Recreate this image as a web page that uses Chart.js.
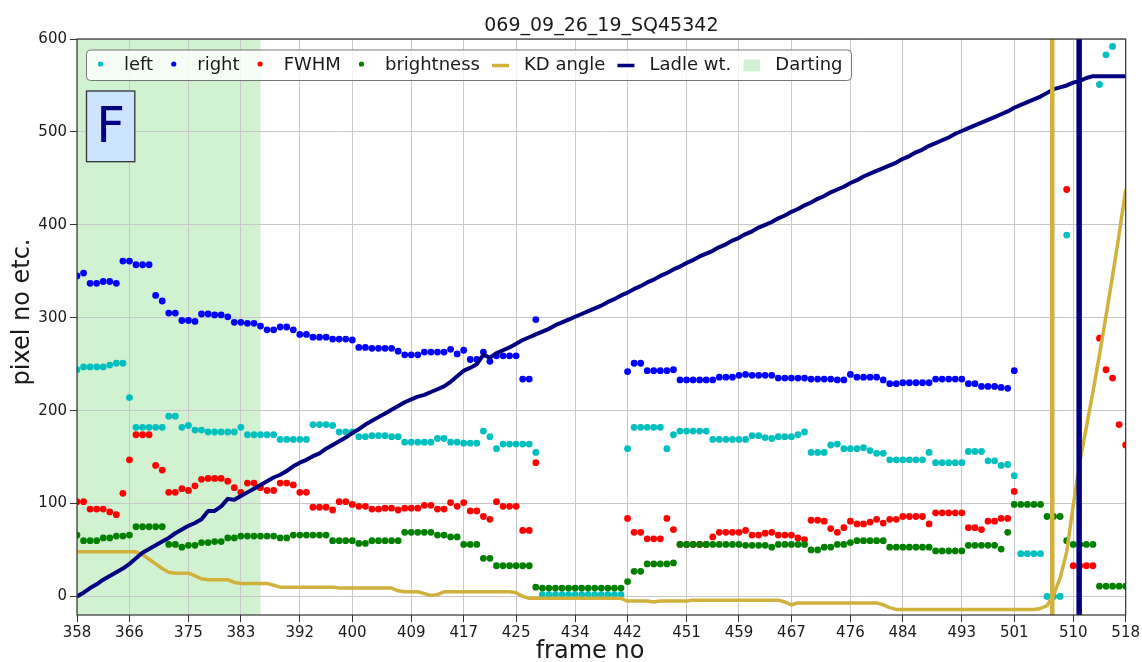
<!DOCTYPE html>
<html>
<head>
<meta charset="utf-8">
<script src="https://cdn.jsdelivr.net/npm/chart.js"></script>
<style>
  html, body { margin: 0; padding: 0; background: #fff; }
</style>
</head>
<body>
<canvas id="chart" width="1142" height="662"></canvas>
<script>
const chartTitle = "069_09_26_19_SQ45342";
const xTitle = "frame no";
const yTitle = "pixel no etc.";
const panelLetter = "F";

const firstFrame = 358;
const lastFrame = 518;
const xTicks = [358, 366, 375, 383, 392, 400, 409, 417, 425, 434, 442, 451, 459, 467, 476, 484, 493, 501, 510, 518];
const yTicks = [0, 100, 200, 300, 400, 500, 600];
const yMin = -20;
const yMax = 600;

const dartingSpan = [358, 386];
const kdEventFrame = 506.8;
const ladleEventFrame = 510.9;

// one value per frame, 358 .. 518 (null = no detection)
const leftPx = [
  244, 247, 247, 247, 247, 249, 251, 251, 214, 182,   // 358
  182, 182, 182, 182, 194, 194, 182, 184, 179, 179,   // 368
  177, 177, 177, 177, 177, 182, 174, 174, 174, 174,   // 378
  174, 169, 169, 169, 169, 169, 185, 185, 185, 184,   // 388
  177, 177, 177, 172, 172, 173, 173, 173, 172, 172,   // 398
  166, 166, 166, 166, 166, 170, 170, 166, 166, 165,   // 408
  165, 165, 178, 172, 159, 164, 164, 164, 164, 164,   // 418
  155, 2, 2, 2, 2, 2, 2, 2, 2, 2,                     // 428
  2, 2, 2, 2, 159, 182, 182, 182, 182, 182,           // 438
  159, 174, 178, 178, 178, 178, 178, 169, 169, 169,   // 448
  169, 169, 169, 173, 173, 171, 170, 172, 172, 172,   // 458
  174, 177, 155, 155, 155, 163, 164, 159, 159, 159,   // 468
  160, 157, 154, 154, 147, 147, 147, 147, 147, 147,   // 478
  155, 144, 144, 144, 144, 144, 156, 156, 156, 146,   // 488
  146, 141, 142, 130, 46, 46, 46, 46, 0, 0,           // 498
  0, 389, null, null, null, null, 551, 583, 592, null, // 508
  null                                                // 518
];

const rightPx = [
  345, 348, 337, 337, 339, 339, 337, 361, 361, 357,
  357, 357, 324, 318, 305, 305, 297, 297, 296, 304,
  304, 303, 303, 301, 295, 295, 294, 294, 291, 287,
  287, 290, 290, 287, 282, 282, 279, 279, 279, 277,
  277, 277, 276, 268, 268, 267, 267, 267, 267, 264,
  260, 260, 260, 263, 263, 263, 263, 266, 261, 265,
  255, 255, 263, 253, 259, 259, 259, 259, 234, 234,
  298, null, null, null, null, null, null, null, null, null,
  null, null, null, null, 242, 251, 251, 243, 243, 243,
  243, 244, 233, 233, 233, 233, 233, 233, 236, 236,
  236, 238, 239, 238, 238, 238, 238, 235, 235, 235,
  235, 235, 234, 234, 234, 234, 233, 233, 239, 236,
  236, 236, 236, 233, 229, 229, 230, 230, 230, 230,
  230, 234, 234, 234, 234, 234, 229, 229, 226, 226,
  226, 225, 224, 243, null, null, null, null, null, null,
  null, null, null, null, null, null, null, null, null, null,
  null
];

const fwhm = [
  102, 102, 94, 94, 94, 91, 88, 111, 147, 174,
  174, 174, 141, 136, 112, 112, 116, 114, 119, 126,
  127, 127, 127, 124, 117, 112, 122, 122, 117, 114,
  114, 122, 122, 120, 112, 112, 96, 96, 96, 93,
  102, 102, 99, 97, 97, 94, 94, 95, 95, 93,
  95, 95, 95, 98, 98, 94, 94, 101, 97, 101,
  92, 92, 86, 83, 102, 97, 97, 97, 71, 71,
  144, null, null, null, null, null, null, null, null, null,
  null, null, null, null, 84, 69, 69, 62, 62, 62,
  84, 72, 56, 56, 56, 56, 56, 64, 69, 69,
  69, 69, 71, 66, 66, 68, 69, 66, 66, 66,
  63, 61, 82, 82, 81, 73, 69, 74, 81, 78,
  78, 80, 83, 79, 83, 83, 86, 86, 86, 86,
  78, 90, 90, 90, 90, 90, 74, 74, 72, 81,
  81, 84, 84, 113, null, null, null, null, null, null,
  null, 438, 33, 33, 33, 33, 278, 244, 235, 185,
  163
];

const brightness = [
  66, 60, 60, 60, 63, 63, 65, 65, 66, 75,
  75, 75, 75, 75, 56, 56, 53, 55, 55, 58,
  58, 59, 59, 63, 63, 65, 65, 65, 65, 65,
  65, 63, 63, 66, 66, 66, 66, 66, 66, 60,
  60, 60, 60, 57, 57, 60, 60, 60, 60, 60,
  69, 69, 69, 69, 69, 66, 66, 64, 64, 56,
  56, 56, 41, 41, 33, 33, 33, 33, 33, 33,
  10, 9, 9, 9, 9, 9, 9, 9, 9, 9,
  9, 9, 9, 9, 16, 27, 27, 35, 35, 35,
  35, 36, 56, 56, 56, 56, 56, 56, 56, 56,
  56, 56, 55, 55, 55, 55, 53, 56, 56, 56,
  56, 56, 50, 50, 53, 53, 56, 56, 58, 60,
  60, 60, 60, 60, 53, 53, 53, 53, 53, 53,
  53, 49, 49, 49, 49, 49, 55, 55, 55, 55,
  55, 51, 69, 99, 99, 99, 99, 99, 86, 86,
  86, 60, 56, 56, 56, 56, 11, 11, 11, 11,
  11
];

const kdAngle = [
  48, 48, 48, 48, 48, 48, 48, 48, 48, 48,
  45, 40, 35, 30, 26, 25, 25, 25, 22, 19,
  18, 18, 18, 18, 15, 14, 14, 14, 14, 14,
  12, 10, 10, 10, 10, 10, 10, 10, 10, 10,
  9, 9, 9, 9, 9, 9, 9, 9, 9, 6,
  5, 5, 5, 3, 1, 2, 5, 5, 5, 5,
  5, 5, 5, 5, 5, 5, 5, 4, 0, -2,
  -2, -2, -2, -2, -2, -2, -2, -2, -2, -2,
  -2, -2, -2, -2, -5, -5, -5, -5, -6, -5,
  -5, -5, -5, -5, -4, -4, -4, -4, -4, -4,
  -4, -4, -4, -4, -4, -4, -4, -4, -6, -9,
  -7, -7, -7, -7, -7, -7, -7, -7, -7, -7,
  -7, -7, -7, -9, -12, -14, -14, -14, -14, -14,
  -14, -14, -14, -14, -14, -14, -14, -14, -14, -14,
  -14, -14, -14, -14, -14, -14, -14, -13, -10, 2,
  20, 48, 98, 145, 182, 220, 260, 302, 345, 390,
  438
];

const ladleWt = [
  0, 4, 9, 13, 18, 22, 26, 30, 35, 41,
  47, 51, 55, 59, 63, 68, 72, 76, 79, 83,
  92, 92, 97, 105, 104, 108, 112, 116, 120, 124,
  128, 131, 135, 140, 144, 147, 151, 154, 159, 163,
  167, 171, 176, 180, 185, 189, 193, 197, 201, 205,
  209, 212, 215, 217, 220, 223, 226, 231, 237, 243,
  246, 250, 260, 257, 262, 265, 268, 272, 276, 279,
  282, 285, 288, 292, 295, 298, 301, 304, 307, 310,
  313, 317, 320, 324, 327, 331, 334, 338, 341, 345,
  348, 352, 355, 359, 362, 366, 369, 372, 376, 379,
  383, 386, 390, 393, 397, 400, 403, 407, 410, 414,
  417, 421, 424, 428, 431, 435, 438, 441, 445, 448,
  452, 455, 458, 461, 464, 467, 471, 474, 478, 481,
  485, 488, 491, 494, 498, 501, 504, 507, 510, 513,
  516, 519, 522, 526, 529, 532, 535, 538, 542, 546,
  548, 550, 553, 555, 558, 560, 560, 560, 560, 560,
  560
];

const colors = {
  left: "#00bfbf",
  right: "#0000ff",
  fwhm: "#ff0000",
  brightness: "#008000",
  kd: "#d2b03c",
  ladle: "#000080",
  darting: "#d1f2d1"
};
const FONT = '"DejaVu Sans", "Liberation Sans", sans-serif';

const frames = [];
for (let f = firstFrame; f <= lastFrame; f++) frames.push(f);
const pts = arr => frames.map((f, i) => ({ x: f, y: arr[i] }));

function dots(label, arr, color, order) {
  return {
    label, data: pts(arr), showLine: false, order, clip: 0,
    pointRadius: 3.4, pointHoverRadius: 3.4, pointBorderWidth: 0,
    pointBackgroundColor: color, backgroundColor: color, borderColor: color
  };
}
function line(label, data, color, width, order) {
  return {
    label, data, order, clip: 0, pointRadius: 0, pointHoverRadius: 0,
    borderColor: color, backgroundColor: color, borderWidth: width,
    borderJoinStyle: "round", tension: 0, fill: false
  };
}

const legendItems = [
  { label: "left", kind: "dot", color: colors.left },
  { label: "right", kind: "dot", color: colors.right },
  { label: "FWHM", kind: "dot", color: colors.fwhm },
  { label: "brightness", kind: "dot", color: colors.brightness },
  { label: "KD angle", kind: "line", color: colors.kd },
  { label: "Ladle wt.", kind: "line", color: colors.ladle },
  { label: "Darting", kind: "patch", color: colors.darting }
];

const paperPlugin = {
  id: "paper",
  beforeDraw(chart) {
    const { ctx, chartArea: a, scales: { x } } = chart;
    ctx.save();
    ctx.fillStyle = "#fff";
    ctx.fillRect(0, 0, chart.width, chart.height);
    const x0 = x.getPixelForValue(dartingSpan[0]);
    const x1 = x.getPixelForValue(dartingSpan[1]);
    ctx.fillStyle = colors.darting;
    ctx.fillRect(x0, a.top, x1 - x0, a.bottom - a.top);
    ctx.restore();
  },
  afterDraw(chart) {
    const { ctx, chartArea: a } = chart;
    ctx.save();
    ctx.strokeStyle = "#333";
    ctx.lineWidth = 1.2;
    ctx.strokeRect(a.left, a.top, a.right - a.left, a.bottom - a.top);

    // titles
    ctx.fillStyle = "#1a1a1a";
    ctx.textAlign = "center";
    ctx.textBaseline = "alphabetic";
    ctx.font = "19px " + FONT;
    ctx.fillText(chartTitle, (a.left + a.right) / 2, 31);
    ctx.font = "24px " + FONT;
    ctx.fillText(xTitle, 590, 658);
    ctx.save();
    ctx.translate(29, 312);
    ctx.rotate(-Math.PI / 2);
    ctx.fillText(yTitle, 0, 0);
    ctx.restore();

    // legend
    ctx.font = "18px " + FONT;
    const cy = 65.5;
    let hx = a.left + 23.5;
    const spots = legendItems.map(it => {
      const tx = hx + 23.5;
      const w = ctx.measureText(it.label).width;
      const s = { it, hx, tx };
      hx = tx + w + 20.6;
      return s;
    });
    const boxL = a.left + 9.5, boxT = a.top + 11, boxB = a.top + 41.5;
    const boxR = hx - 20.6 + 9;
    ctx.beginPath();
    ctx.roundRect(boxL, boxT, boxR - boxL, boxB - boxT, 4);
    ctx.fillStyle = "rgba(255,255,255,0.8)";
    ctx.fill();
    ctx.strokeStyle = "#777";
    ctx.lineWidth = 1;
    ctx.stroke();
    ctx.textAlign = "left";
    ctx.textBaseline = "middle";
    spots.forEach(({ it, hx, tx }) => {
      if (it.kind === "dot") {
        ctx.beginPath();
        ctx.arc(hx, cy - 1.5, 2.6, 0, Math.PI * 2);
        ctx.fillStyle = it.color;
        ctx.fill();
      } else if (it.kind === "line") {
        ctx.beginPath();
        ctx.moveTo(hx - 8.5, cy);
        ctx.lineTo(hx + 8.5, cy);
        ctx.strokeStyle = it.color;
        ctx.lineWidth = 3.5;
        ctx.stroke();
      } else {
        ctx.fillStyle = it.color;
        ctx.fillRect(hx - 8.3, cy - 6, 16.6, 12);
      }
      ctx.fillStyle = "#1a1a1a";
      ctx.fillText(it.label, tx, cy);
    });

    // panel letter box
    ctx.fillStyle = "#cce4ff";
    ctx.fillRect(a.left + 9.5, a.top + 52, 48.3, 70.7);
    ctx.strokeStyle = "#333";
    ctx.lineWidth = 1.3;
    ctx.strokeRect(a.left + 9.5, a.top + 52, 48.3, 70.7);
    ctx.fillStyle = colors.ladle;
    ctx.textAlign = "center";
    ctx.textBaseline = "alphabetic";
    ctx.font = "50px " + FONT;
    ctx.fillText(panelLetter, a.left + 9.5 + 24.2, a.top + 102.5);
    ctx.restore();
  }
};

new Chart(document.getElementById("chart"), {
  type: "line",
  data: {
    datasets: [
      dots("left", leftPx, colors.left, 7),
      dots("right", rightPx, colors.right, 6),
      dots("FWHM", fwhm, colors.fwhm, 5),
      dots("brightness", brightness, colors.brightness, 4),
      line("KD angle", pts(kdAngle), colors.kd, 3.5, 3),
      line("Ladle wt.", pts(ladleWt), colors.ladle, 4, 2),
      line("KD event", [{ x: kdEventFrame, y: yMin }, { x: kdEventFrame, y: yMax }], colors.kd, 4.5, 1),
      line("Ladle event", [{ x: ladleEventFrame, y: yMin }, { x: ladleEventFrame, y: yMax }], colors.ladle, 5.5, 0)
    ]
  },
  options: {
    responsive: false,
    animation: false,
    events: [],
    layout: { padding: { top: 39, right: 15, left: 0, bottom: 0 } },
    plugins: {
      legend: { display: false },
      title: { display: false },
      tooltip: { enabled: false }
    },
    scales: {
      x: {
        type: "linear",
        min: firstFrame,
        max: lastFrame,
        afterBuildTicks: s => { s.ticks = xTicks.map(v => ({ value: v })); },
        afterFit: s => { s.height = 47; },
        grid: { color: "#c8c8c8", lineWidth: 1, tickLength: 7, tickColor: "#333" },
        border: { display: false },
        ticks: {
          font: { family: FONT, size: 15 }, color: "#1a1a1a", padding: 2,
          maxRotation: 0, autoSkip: false, callback: v => String(v)
        }
      },
      y: {
        type: "linear",
        min: yMin,
        max: yMax,
        afterBuildTicks: s => { s.ticks = yTicks.map(v => ({ value: v })); },
        afterFit: s => { s.width = 77; },
        grid: { color: "#c8c8c8", lineWidth: 1, tickLength: 7, tickColor: "#333" },
        border: { display: false },
        ticks: {
          font: { family: FONT, size: 15 }, color: "#1a1a1a", padding: 3,
          callback: v => String(v)
        }
      }
    }
  },
  plugins: [paperPlugin]
});
</script>
</body>
</html>
